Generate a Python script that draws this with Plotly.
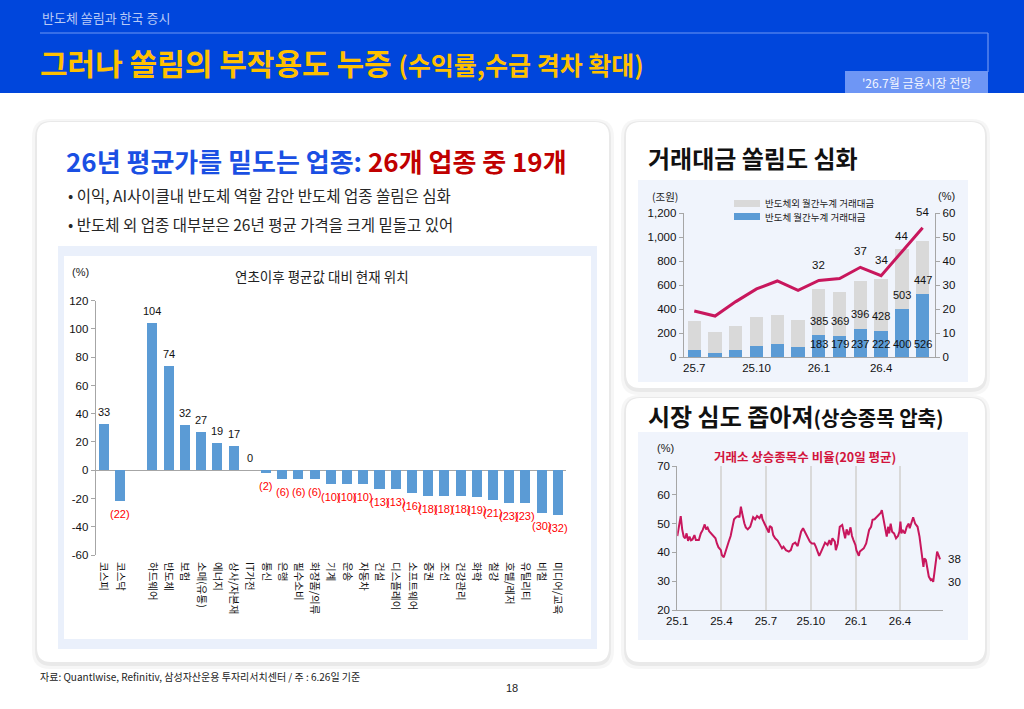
import plotly.graph_objects as go
import pandas as pd

W, H = 1024, 709
KR = "Noto Sans CJK KR"
NUM = "Liberation Sans, Noto Sans CJK KR"

# ---------------- data ----------------
sector_names = ["코스피", "코스닥", " ", "하드웨어", "반도체", "보험", "소매(유통)", "에너지",
                "상사/자본재", "IT가전", "통신", "은행", "필수소비", "화장품/의류", "기계", "운송",
                "자동차", "건설", "디스플레이", "소프트웨어", "증권", "조선", "건강관리", "화학",
                "철강", "호텔/레저", "유틸리티", "비철", "미디어/교육"]
sector_values = [33, -22, None, 104, 74, 32, 27, 19, 17, 0, -2, -6, -6, -6, -10, -10, -10,
                 -13, -13, -16, -18, -18, -18, -19, -21, -23, -23, -30, -32]
sector_yticks = [-60, -40, -20, 0, 20, 40, 60, 80, 100, 120]

trade_months = ["25.7", "25.8", "25.9", "25.10", "25.11", "25.12",
                "26.1", "26.2", "26.3", "26.4", "26.5", "26.6"]
trade_semi = [59, 37, 62, 93, 113, 85, 183, 179, 237, 222, 400, 526]
trade_other = [242, 177, 197, 239, 242, 222, 385, 369, 396, 428, 503, 447]
trade_share = [19.3, 17.2, 23.2, 28.5, 31.8, 27.9, 32.0, 32.8, 37.5, 34.0, 44.0, 54.0]
trade_share_labels = [None, None, None, None, None, None, "32", None, "37", "34", "44", "54"]
trade_bar_labels_show = [False] * 6 + [True] * 6
trade_xticks = ["25.7", "25.10", "26.1", "26.4"]

breadth_day_offsets = [0, 4, 7, 10, 13, 16, 19, 22, 25, 28, 31, 35, 38, 44, 48, 52, 56, 59, 62, 65,
                       69, 74, 78, 81, 84, 89, 91, 95, 98, 101, 105, 109, 113, 116, 120, 124, 127, 130, 132, 134,
                       137, 140, 144, 149, 152, 155, 159, 163, 168, 172, 174, 178, 183, 187, 189, 193, 196, 200, 205, 210,
                       214, 217, 222, 228, 232, 236, 241, 246, 249, 253, 257, 262, 266, 271, 275, 280, 283, 287, 290, 294,
                       298, 302, 307, 311, 314, 317, 322, 324, 328, 332, 337, 339, 343, 346, 350, 354, 357, 360, 364, 366,
                       371, 373, 377, 381, 386, 389, 392, 396, 399, 403, 407, 411, 416, 418, 422, 425, 428, 431, 433, 436,
                       439, 443, 447, 451, 454, 456, 458, 460, 465, 469, 473, 475, 480, 482, 486, 491, 495, 498, 500, 503,
                       505, 508, 511, 514, 518, 520, 523, 526, 528, 531, 534, 537]
breadth_values = [45.7, 50.0, 52.6, 48.0, 45.5, 44.9, 46.6, 44.0, 45.5, 44.2, 44.5, 46.0, 44.3, 44.3, 46.6, 47.8, 49.7, 48.0, 48.6, 47.4,
                  46.6, 46.0, 44.9, 43.1, 41.8, 40.8, 39.1, 38.3, 39.7, 41.4, 43.7, 45.7, 48.9, 51.5, 52.2, 52.6, 52.2, 55.9, 54.0, 52.2,
                  50.1, 48.7, 48.0, 48.9, 50.7, 52.2, 51.5, 52.6, 51.9, 53.3, 51.5, 50.1, 48.4, 46.9, 49.2, 48.6, 46.0, 44.9, 44.1, 42.6,
                  41.4, 42.0, 40.8, 40.3, 40.8, 42.9, 43.4, 42.2, 44.3, 47.2, 48.4, 46.6, 44.9, 43.7, 43.1, 43.1, 42.0, 39.9, 38.8, 40.3,
                  41.8, 43.4, 42.6, 44.3, 42.6, 44.9, 43.7, 40.8, 43.1, 48.9, 49.5, 48.0, 44.9, 48.0, 46.0, 48.7, 45.7, 44.3, 42.6, 40.8,
                  38.8, 40.3, 40.8, 41.4, 43.1, 45.5, 47.8, 48.9, 51.3, 51.5, 52.2, 53.0, 53.8, 54.7, 51.3, 48.4, 45.5, 48.9, 46.6, 50.0,
                  47.2, 46.6, 44.9, 45.7, 47.2, 50.7, 46.6, 47.8, 46.6, 48.9, 50.0, 48.4, 51.5, 52.2, 50.0, 48.9, 45.5, 42.0, 38.5, 35.0,
                  37.9, 37.4, 34.5, 31.6, 30.4, 30.6, 29.8, 33.9, 37.9, 40.3, 39.0, 37.6]
breadth_ticks = ["2025-01-01", "2025-04-01", "2025-07-01", "2025-10-01", "2026-01-01", "2026-04-01"]
breadth_ticktext = ["25.1", "25.4", "25.7", "25.10", "26.1", "26.4"]
breadth_end_labels = ["38", "30"]

breadth_dates = pd.Timestamp("2025-01-01") + pd.to_timedelta(breadth_day_offsets, unit="D")

# ---------------- helpers ----------------
def px(x):
    return x / W


def py(y):
    return 1 - y / H


shapes = []
annotations = []


def rect(x0, y0, x1, y1, fill, line=None, lw=0):
    shapes.append(dict(type="rect", xref="paper", yref="paper", x0=px(x0), x1=px(x1),
                       y0=py(y1), y1=py(y0), fillcolor=fill, layer="below",
                       line=dict(color=line or fill, width=lw)))


def rrect(x0, y0, x1, y1, r, fill):
    rx, ry = r / W, r / H
    X0, X1, Y0, Y1 = px(x0), px(x1), py(y1), py(y0)
    path = (f"M {X0+rx},{Y1} L {X1-rx},{Y1} Q {X1},{Y1} {X1},{Y1-ry} "
            f"L {X1},{Y0+ry} Q {X1},{Y0} {X1-rx},{Y0} L {X0+rx},{Y0} "
            f"Q {X0},{Y0} {X0},{Y0+ry} L {X0},{Y1-ry} Q {X0},{Y1} {X0+rx},{Y1} Z")
    shapes.append(dict(type="path", xref="paper", yref="paper", path=path,
                       fillcolor=fill, line=dict(width=0), layer="below"))


def line(x0, y0, x1, y1, color, w=1):
    shapes.append(dict(type="line", xref="paper", yref="paper", x0=px(x0), x1=px(x1),
                       y0=py(y0), y1=py(y1), line=dict(color=color, width=w), layer="below"))


def txt(x, y, text, size, color="#222222", xanchor="left", yanchor="middle", family=KR):
    annotations.append(dict(x=px(x), y=py(y), xref="paper", yref="paper", text=text,
                            showarrow=False, xanchor=xanchor, yanchor=yanchor,
                            font=dict(size=size, color=color, family=family)))


# ---------------- page decoration ----------------
rect(0, 0, 1024, 93, "#0046DC")
line(40, 33, 988, 33, "#6F95F2", 1.2)
line(988, 33, 988, 72, "#6F95F2", 1.2)
rect(845, 71, 988, 93, "#6E96F5")
txt(40, 18, "반도체 쏠림과 한국 증시", 13, "#B8C9F6")
txt(38, 62, "<b>그러나 쏠림의 부작용도 누증</b> <b><span style='font-size:25px'>(수익률,수급 격차 확대)</span></b>",
    30, "#FFC000")
txt(916, 82, "'26.7월 금융시장 전망", 12, "#F2F5FF", xanchor="center")

# cards with soft shadow
for (x0, y0, x1, y1) in [(37, 122, 609, 662), (626, 122, 985, 388), (626, 398, 985, 662)]:
    rrect(x0 - 5, y0 - 3, x1 + 5, y1 + 7, 18, "rgba(0,0,0,0.035)")
    rrect(x0 - 2, y0 - 1, x1 + 2, y1 + 4, 16, "rgba(0,0,0,0.05)")
    rrect(x0, y0, x1, y1, 14, "#FFFFFF")

# left panel text
txt(64, 160, "<b><span style='color:#1A4FE3'>26년 평균가를 밑도는 업종: </span>"
             "<span style='color:#C00000'>26개 업종 중 19개</span></b>", 26)
txt(66, 195, "• 이익, AI사이클내 반도체 역할 감안 반도체 업종 쏠림은 심화", 15.5, "#262626")
txt(66, 224, "• 반도체 외 업종 대부분은 26년 평균 가격을 크게 밑돌고 있어", 15.5, "#262626")

# left chart frame
rect(58, 246, 597, 649, "#EAF0FB")
rect(64, 256, 591, 639, "#FFFFFF")
txt(80, 272, "(%)", 11, "#222222", xanchor="center", family=NUM)
txt(322, 276, "연초이후 평균값 대비 현재 위치", 13.5, "#222222", xanchor="center")

# top-right panel
txt(646, 157, "<b>거래대금 쏠림도 심화</b>", 24, "#111111")
rect(638, 180, 968, 382, "#F0F4FC")
txt(665, 196, "(조원)", 10.5, "#222222", xanchor="center")
txt(946, 196, "(%)", 11, "#222222", xanchor="center", family=NUM)
rect(734, 200, 760, 207, "#D9D9D9")
rect(734, 213, 760, 220, "#5B9BD5")
txt(763, 203, "반도체외 월간누계 거래대금", 9.5, "#222222")
txt(763, 217, "반도체 월간누계 거래대금", 9.5, "#222222")

# bottom-right panel
txt(646, 415, "<b>시장 심도 좁아져</b><b><span style='font-size:20px'>(상승종목 압축)</span></b>", 24, "#111111")
rect(638, 432, 968, 640, "#F0F4FC")
txt(665, 448, "(%)", 11, "#222222", xanchor="center", family=NUM)
txt(805, 456, "<b>거래소 상승종목수 비율(20일 평균)</b>", 12.5, "#D2143C", xanchor="center")

# footer
txt(38, 676, "자료: Quantlwise, Refinitiv, 삼성자산운용 투자리서치센터 / 주 : 6.26일 기준", 10, "#222222")
txt(512, 688, "18", 11, "#222222", xanchor="center", family=NUM)

# ---------------- traces ----------------
fig = go.Figure()

BLUE = "#5B9BD5"
GRAY = "#D9D9D9"
MAG = "#C8175D"
AX = "#A6A6A6"

fig.add_trace(go.Bar(x=sector_names, y=sector_values, marker=dict(color=BLUE, line=dict(width=0)),
                     width=0.62, xaxis="x", yaxis="y", hoverinfo="skip"))

fig.add_trace(go.Bar(x=trade_months, y=trade_semi, marker=dict(color=BLUE, line=dict(width=0)),
                     width=0.64, xaxis="x2", yaxis="y2", name="반도체 월간누계 거래대금"))
fig.add_trace(go.Bar(x=trade_months, y=trade_other, marker=dict(color=GRAY, line=dict(width=0)),
                     width=0.64, xaxis="x2", yaxis="y2", name="반도체외 월간누계 거래대금"))
fig.add_trace(go.Scatter(x=trade_months, y=trade_share, mode="lines", line=dict(color=MAG, width=3),
                         xaxis="x2", yaxis="y3"))

fig.add_trace(go.Scatter(x=breadth_dates, y=breadth_values, mode="lines",
                         line=dict(color=MAG, width=2), xaxis="x3", yaxis="y4"))

# ---------------- data labels ----------------
for i, v in enumerate(sector_values):
    if v is None:
        continue
    if v >= 0:
        annotations.append(dict(x=i, y=v, xref="x", yref="y", text=str(v), showarrow=False,
                                yanchor="bottom", yshift=4,
                                font=dict(size=11, color="#111111", family=NUM)))
    else:
        annotations.append(dict(x=i, y=v, xref="x", yref="y", text=f"({abs(v)})", showarrow=False,
                                yanchor="top", yshift=-5,
                                font=dict(size=11, color="#FF0000", family=NUM)))

for i, (s, o, show) in enumerate(zip(trade_semi, trade_other, trade_bar_labels_show)):
    if not show:
        continue
    annotations.append(dict(x=i, y=110, xref="x2", yref="y2", text=str(s), showarrow=False,
                            font=dict(size=11, color="#111111", family=NUM)))
    annotations.append(dict(x=i, y=s + 120, xref="x2", yref="y2", text=str(o), showarrow=False,
                            font=dict(size=11, color="#111111", family=NUM)))
for i, (v, lab) in enumerate(zip(trade_share, trade_share_labels)):
    if lab is None:
        continue
    annotations.append(dict(x=i, y=v, xref="x2", yref="y3", text=lab, showarrow=False,
                            yshift=16, font=dict(size=11.5, color="#111111", family=NUM)))

annotations.append(dict(x=breadth_dates[-1], y=breadth_values[-1], xref="x3", yref="y4",
                        text=breadth_end_labels[0], showarrow=False, xanchor="left", xshift=6,
                        font=dict(size=11.5, color="#111111", family=NUM)))
annotations.append(dict(x=breadth_dates[-1], y=min(breadth_values), xref="x3", yref="y4",
                        text=breadth_end_labels[1], showarrow=False, xanchor="left", xshift=6,
                        font=dict(size=11.5, color="#111111", family=NUM)))

# ---------------- layout ----------------
tickf = dict(size=11.5, color="#111111", family=NUM)

fig.update_layout(
    width=W, height=H, margin=dict(l=0, r=0, t=0, b=0, autoexpand=False),
    paper_bgcolor="#FFFFFF", plot_bgcolor="rgba(0,0,0,0)",
    showlegend=False, barmode="stack",
    shapes=shapes, annotations=annotations,
    xaxis=dict(domain=[px(95.7), px(566)], anchor="y", type="category", range=[-0.5, 28.5],
               tickangle=90, tickfont=dict(size=10.5, color="#111111", family=KR),
               ticklabelstandoff=6,
               showline=False, ticks="", showgrid=False, zeroline=False, automargin=False),
    yaxis=dict(domain=[py(555), py(300.7)], anchor="x", range=[-60, 120],
               tickvals=sector_yticks, ticktext=[str(t) for t in sector_yticks],
               showline=True, linecolor=AX, linewidth=1, ticks="outside", ticklen=4, tickcolor=AX,
               showgrid=False, zeroline=True, zerolinecolor=AX, zerolinewidth=1,
               tickfont=dict(size=11.5, color="#111111", family=NUM), automargin=False),
    xaxis2=dict(domain=[px(683.7), px(935.3)], anchor="y2", type="category", range=[-0.51, 11.61],
                tickvals=trade_xticks, ticktext=trade_xticks, showline=True, linecolor=AX,
                ticks="", showgrid=False, zeroline=False, tickfont=tickf, automargin=False),
    yaxis2=dict(domain=[py(357.3), py(213.3)], anchor="x2", range=[0, 1200], dtick=200,
                tickformat=",", showline=True, linecolor=AX, ticks="outside", ticklen=4, tickcolor=AX,
                showgrid=False, zeroline=False, tickfont=tickf, automargin=False),
    yaxis3=dict(anchor="x2", overlaying="y2", side="right", range=[0, 60], dtick=10,
                showline=True, linecolor=AX, ticks="outside", ticklen=4, tickcolor=AX,
                showgrid=False, zeroline=False, tickfont=tickf, automargin=False),
    xaxis3=dict(domain=[px(677.3), px(943)], anchor="y4", type="date",
                range=["2025-01-01", "2026-06-28"], tickvals=breadth_ticks, ticktext=breadth_ticktext,
                showgrid=True, gridcolor="#D9D9D9", gridwidth=1.5, showline=True, linecolor=AX,
                ticks="", zeroline=False, tickfont=tickf, automargin=False),
    yaxis4=dict(domain=[py(610), py(466)], anchor="x3", range=[20, 70], dtick=10,
                showline=True, linecolor=AX, ticks="outside", ticklen=4, tickcolor=AX,
                showgrid=False, zeroline=False, tickfont=tickf, automargin=False),
)

fig.write_html("out.html",
               post_script="document.body.style.margin='0px';document.body.style.padding='0px';")
